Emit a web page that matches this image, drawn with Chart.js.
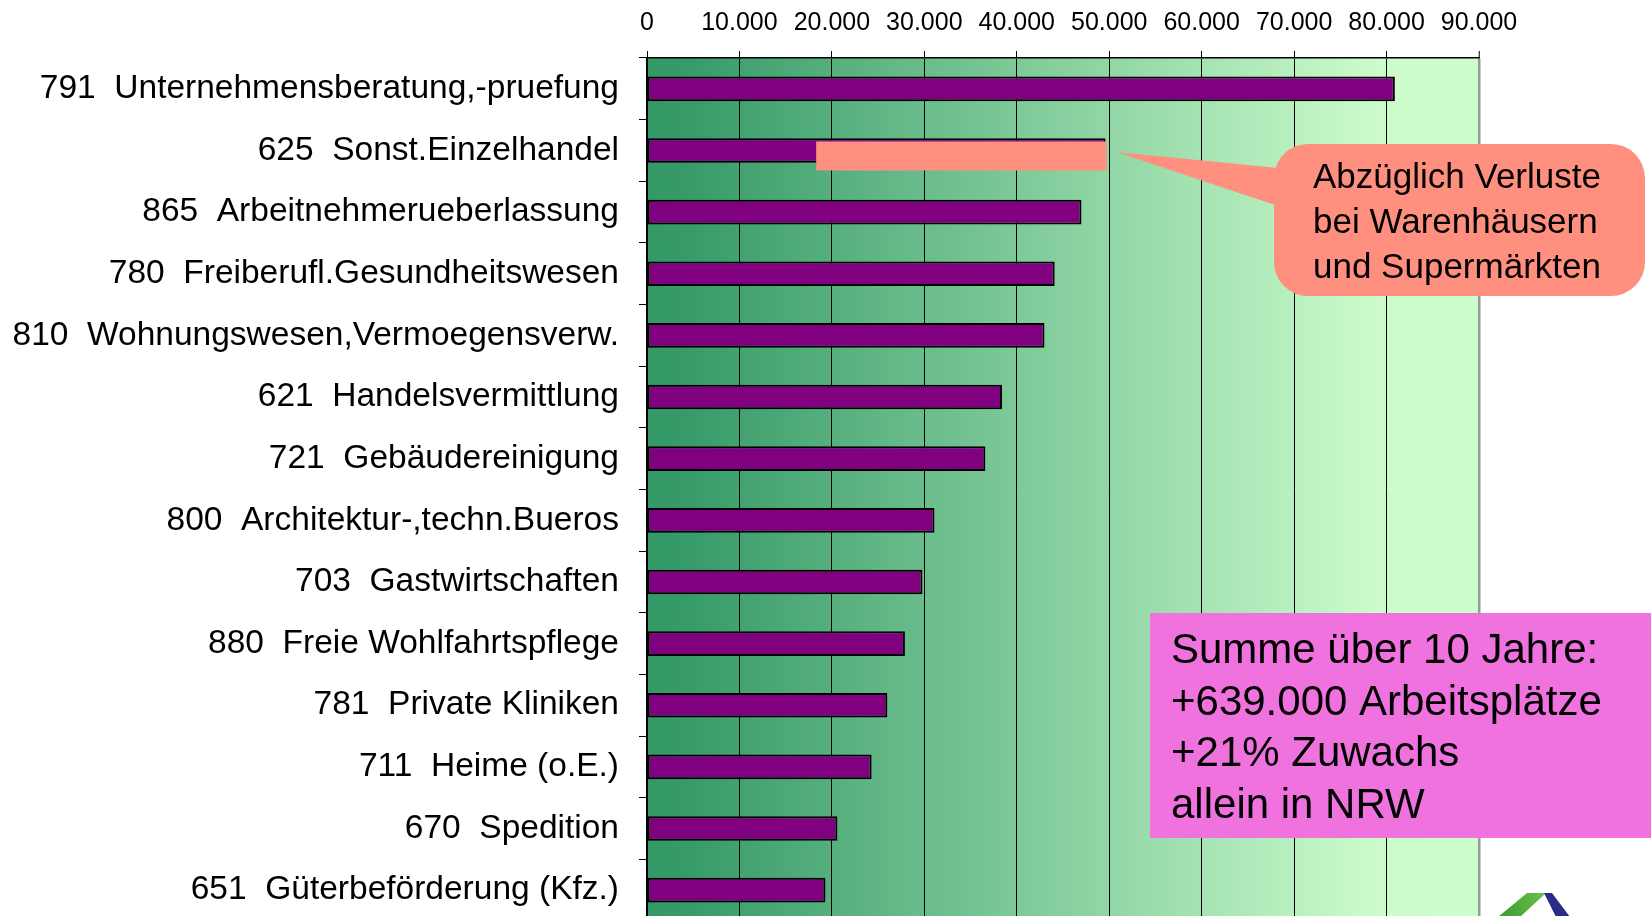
<!DOCTYPE html>
<html><head><meta charset="utf-8">
<script src="https://cdn.jsdelivr.net/npm/chart.js@4.4.0/dist/chart.umd.min.js"></script>
<style>
html,body{margin:0;padding:0;overflow:hidden;background:#fff;width:1651px;height:916px}
canvas{display:block}
</style></head>
<body><canvas id="c" width="1651" height="921"></canvas>
<script>
// ---- data ----
const categories = [
  '791  Unternehmensberatung,-pruefung',
  '625  Sonst.Einzelhandel',
  '865  Arbeitnehmerueberlassung',
  '780  Freiberufl.Gesundheitswesen',
  '810  Wohnungswesen,Vermoegensverw.',
  '621  Handelsvermittlung',
  '721  Gebäudereinigung',
  '800  Architektur-,techn.Bueros',
  '703  Gastwirtschaften',
  '880  Freie Wohlfahrtspflege',
  '781  Private Kliniken',
  '711  Heime (o.E.)',
  '670  Spedition',
  '651  Güterbeförderung (Kfz.)'
];
const jobGrowth = [80900, 49600, 47000, 44100, 43000, 38400, 36600, 31100, 29800, 27900, 26000, 24300, 20600, 19300];
const xTickValues = [0, 10000, 20000, 30000, 40000, 50000, 60000, 70000, 80000, 90000];
const lossCategoryIndex = 1;
const lossFrom = 18300;
const calloutLines = ['Abzüglich Verluste', 'bei Warenhäusern', 'und Supermärkten'];
const summaryLines = ['Summe über 10 Jahre:', '+639.000 Arbeitsplätze', '+21% Zuwachs', 'allein in NRW'];

function fmt(v) { return String(v).replace(/\B(?=(\d{3})+(?!\d))/g, '.'); }

const FONT = "'Liberation Sans', Arial, sans-serif";

const backgroundPlugin = {
  id: 'bg',
  beforeDraw(chart) {
    const { ctx, chartArea: a } = chart;
    const g = ctx.createLinearGradient(a.left, 0, a.right, 0);
    g.addColorStop(0, '#339966');
    g.addColorStop(0.05, '#379b69');
    g.addColorStop(0.88, '#ccfccc');
    g.addColorStop(1, '#ccfdcc');
    ctx.save();
    ctx.fillStyle = g;
    ctx.fillRect(a.left, a.top, a.right - a.left, a.bottom - a.top);
    ctx.restore();
  }
};

const overlayPlugin = {
  id: 'overlay',
  afterDraw(chart) {
    const { ctx } = chart;
    const xs = chart.scales.x, ys = chart.scales.y;
    const yc = ys.getPixelForValue(lossCategoryIndex);
    const x1 = xs.getPixelForValue(lossFrom);
    const x2 = xs.getPixelForValue(jobGrowth[lossCategoryIndex]);
    ctx.save();
    // salmon "loss" overlay on bar
    ctx.fillStyle = '#ff8f7f';
    ctx.fillRect(x1, yc - 9, x2 - x1 + 1, 29);

    // callout bubble
    const bx = 1274, by = 144, bw = 371, bh = 152, r = 34;
    ctx.beginPath();
    ctx.roundRect(bx, by, bw, bh, r);
    ctx.fill();
    ctx.beginPath();
    ctx.moveTo(x2 + 11, yc + 1.5);
    ctx.lineTo(bx + 4, 168);
    ctx.lineTo(bx + 4, 206);
    ctx.closePath();
    ctx.fill();
    ctx.fillStyle = '#000';
    ctx.font = "35px " + FONT;
    ctx.textBaseline = 'alphabetic';
    ctx.textAlign = 'left';
    calloutLines.forEach((t, i) => ctx.fillText(t, 1313, 188 + i * 45, 290));

    // summary box
    ctx.fillStyle = '#ef72df';
    ctx.fillRect(1150, 613, 501, 225);
    ctx.fillStyle = '#000';
    ctx.font = "42px " + FONT;
    summaryLines.forEach((t, i) => ctx.fillText(t, 1171, 663 + i * 51.5, 440));

    // logo fragment (bottom right)
    const gg = ctx.createLinearGradient(1498, 916, 1546, 893);
    gg.addColorStop(0, '#3a9a2e');
    gg.addColorStop(1, '#6cc24a');
    ctx.fillStyle = gg;
    ctx.beginPath();
    ctx.moveTo(1498, 917); ctx.lineTo(1527, 893); ctx.lineTo(1546, 893); ctx.lineTo(1520, 917);
    ctx.closePath(); ctx.fill();
    ctx.fillStyle = '#2c2c88';
    ctx.beginPath();
    ctx.moveTo(1544, 893); ctx.lineTo(1552, 893); ctx.lineTo(1570, 917); ctx.lineTo(1556, 917);
    ctx.closePath(); ctx.fill();
    ctx.restore();
  }
};

new Chart(document.getElementById('c'), {
  type: 'bar',
  data: {
    labels: categories,
    datasets: [{
      data: jobGrowth,
      backgroundColor: '#800080',
      borderColor: '#000000',
      borderWidth: 2,
      borderSkipped: false,
      barPercentage: 0.4,
      categoryPercentage: 1.0
    }]
  },
  options: {
    indexAxis: 'y',
    responsive: false,
    animation: false,
    events: [],
    layout: { padding: { left: 10, top: 6, right: 172, bottom: 0 } },
    plugins: { legend: { display: false }, tooltip: { enabled: false } },
    scales: {
      x: {
        position: 'top',
        min: 0, max: 90000,
        afterBuildTicks(scale) { scale.ticks = xTickValues.map(v => ({ value: v })); },
        afterFit(scale) { scale.height = 52; scale.paddingLeft = 0; scale.paddingRight = 0; },
        ticks: {
          color: '#000',
          padding: 13,
          font: { family: FONT, size: 25 },
          maxRotation: 0,
          autoSkip: false,
          callback: (v) => fmt(v)
        },
        grid: {
          color: (c) => (c.tick && c.tick.value === 90000) ? '#9a9a9a' : '#000000',
          lineWidth: (c) => (c.tick && c.tick.value === 90000) ? 2.5 : 1,
          tickColor: '#000',
          tickWidth: 1,
          tickLength: 7,
          drawOnChartArea: true
        },
        border: { display: true, color: '#000', width: 1.5 }
      },
      y: {
        afterFit(scale) { scale.width = 637; scale.paddingTop = 0; scale.paddingBottom = 0; },
        ticks: {
          color: '#000',
          padding: 20,
          autoSkip: false,
          font: { family: FONT, size: 33.5 }
        },
        grid: {
          offset: true,
          drawOnChartArea: false,
          drawTicks: true,
          tickLength: 8,
          color: '#000',
          tickColor: '#000'
        },
        border: { display: true, color: '#000', width: 1.5 }
      }
    }
  },
  plugins: [backgroundPlugin, overlayPlugin]
});
</script>
</body></html>
